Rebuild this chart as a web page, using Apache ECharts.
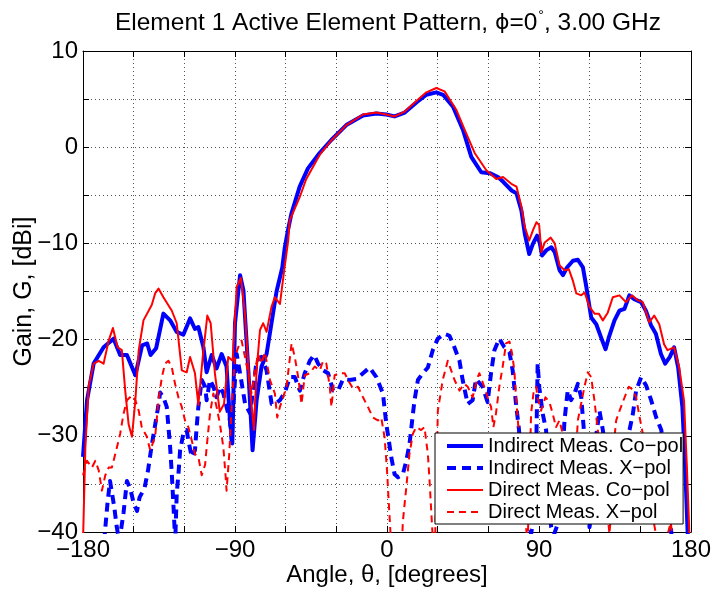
<!DOCTYPE html>
<html>
<head>
<meta charset="utf-8">
<script src="https://cdn.jsdelivr.net/npm/echarts@6/dist/echarts.min.js"></script>
<style>
html,body{margin:0;padding:0;background:#fff;}
#chart{width:712px;height:593px;}
</style>
</head>
<body>
<div id="chart"></div>
<script>
// ---- data: [angle (deg), gain (dBi)] ----
const seriesNames = ['Indirect Meas. Co\u2212pol', 'Indirect Meas. X\u2212pol', 'Direct Meas. Co\u2212pol', 'Direct Meas. X\u2212pol'];
const xTickLabels = [-180, -90, 0, 90, 180];
const yTickLabels = [-40, -30, -20, -10, 0, 10];

const indirectCoPol = [
[-180,-32.2],[-177.6,-26.3],[-173.7,-22.5],[-167.8,-20.8],[-161.9,-19.9],[-158,-21.6],[-154,-21.6],[-149,-23.7],
[-145,-20.6],[-142,-20.4],[-140,-21.6],[-136.7,-20.9],[-132.4,-17.3],[-128.4,-18.0],[-124.5,-19.2],[-120.6,-19.5],
[-116.6,-17.8],[-113.7,-18.9],[-111.7,-18.7],[-108.7,-20.8],[-106.8,-23.4],[-103.8,-21.6],[-100.9,-23.0],[-97.9,-21.5],
[-95,-22.8],[-93,-28.4],[-91.6,-30.8],[-90,-18.3],[-87,-13.3],[-85,-14.9],[-82,-23.5],[-79.6,-31.5],[-77.2,-26.3],
[-74.3,-22.8],[-71.3,-21.5],[-68.4,-18.3],[-65.4,-15.0],[-62,-12.5],[-60.5,-10.4],[-58.5,-8.5],[-56.6,-6.9],
[-51.7,-4.1],[-46.8,-2.2],[-39.9,-0.6],[-33,0.75],[-24.1,2.3],[-14.2,3.3],[-6.3,3.5],[-0.4,3.4],[4.5,3.2],[10.5,3.6],
[17.4,4.65],[23.3,5.45],[29.2,5.7],[33.2,5.45],[39.1,4.2],[45,1.8],[49.9,-1.0],[55.8,-2.6],[60.8,-2.7],[65.7,-3.1],
[68.8,-3.6],[73.8,-4.5],[76.7,-4.8],[79.6,-6.6],[81.6,-9.0],[84.2,-11.1],[86.5,-10.0],[88.9,-9.2],[90.5,-10.0],
[91.8,-11.25],[94.4,-10.7],[97.3,-10.4],[99.3,-10.9],[102.2,-12.8],[104.2,-13.3],[106.6,-12.5],[110.1,-11.8],
[113,-11.7],[116,-12.5],[118,-14.5],[120.9,-17.7],[123.9,-18.4],[126.8,-19.8],[129.4,-21.0],[131.3,-19.8],
[134.7,-18.0],[137.6,-17.0],[140.6,-16.8],[143.5,-15.4],[146.4,-15.8],[150.4,-16.1],[153.3,-17.0],[156.3,-18.5],
[159.2,-19.4],[162.2,-21.5],[164.7,-22.5],[167.5,-21.8],[170,-20.8],[172.4,-22.9],[174.9,-27.0],[176.5,-33],
[178,-40],[180,-44]
];

const indirectXPol = [
[-180,-45],[-168,-42],[-165.5,-37],[-164,-34.7],[-161.5,-37.4],[-160,-39.5],[-158.5,-41],[-156,-38],[-154,-34.7],
[-152,-35.5],[-150,-37],[-148,-37.8],[-146.5,-36.4],[-143.5,-35.4],[-141.5,-33.6],[-139.5,-31.2],[-137.5,-29.1],
[-135.5,-27],[-134.3,-25.5],[-132.4,-26],[-130.4,-27],[-129.4,-29.1],[-128.4,-31.2],[-127.4,-34],[-126.4,-37.4],
[-125.4,-41],[-124.5,-36],[-123.5,-34],[-122.5,-31.5],[-120.6,-29.8],[-118.6,-29.4],[-117.6,-30.5],[-115.6,-32.2],
[-113.7,-31.5],[-112.7,-29.1],[-111.7,-27],[-109.7,-24.2],[-107.7,-24.9],[-106.8,-26.3],[-104.8,-24.2],
[-102.8,-24.9],[-100.9,-26],[-98.9,-24.9],[-96.9,-25.6],[-95,-27],[-93,-28.4],[-92,-30.5],[-91,-27],[-90,-24.2],
[-89,-21.5],[-87,-23.5],[-84,-26.7],[-81,-27.7],[-77.2,-22.2],[-74.3,-21.8],[-71.3,-23.2],[-68.3,-26.7],
[-66.4,-26.7],[-63.4,-26.3],[-60.5,-25.5],[-57.5,-23.9],[-54.6,-23.9],[-51.6,-25.3],[-48.7,-23.5],[-45.7,-22.2],
[-43.1,-21.6],[-40.8,-22.5],[-37.8,-23.2],[-34.9,-23.5],[-31.9,-25.3],[-29,-25.3],[-26,-24.1],[-22.1,-24.2],
[-18.1,-24.1],[-14.2,-23.5],[-10.3,-22.9],[-6.3,-23.9],[-2.4,-25.6],[-0.4,-28.8],[1.1,-30.5],[2.5,-32.2],
[4.5,-34],[6.5,-34.3],[9.4,-34],[11.4,-32.6],[13.3,-30.9],[14.9,-28.4],[16.3,-26.3],[18.3,-24.2],[21.2,-23.5],
[24.2,-22.9],[27.1,-21.1],[30.1,-19.9],[34,-19.4],[37,-19.6],[39.9,-20.8],[42.9,-22.2],[44.8,-24.2],[47.8,-26.7],
[50.7,-26.3],[52.7,-24.1],[56.6,-24.9],[59.6,-26.5],[61.6,-23.5],[63.6,-21.1],[66.5,-19.9],[69.5,-20.8],
[72.5,-21.3],[74.4,-23.2],[76.4,-26.7],[78,-29.1],[79.4,-31.9],[81.3,-35.3],[83.3,-38.1],[85.3,-40.2],
[87.3,-38.1],[88.3,-31.9],[89.2,-22.5],[90.2,-25],[92.2,-27.7],[94.2,-29.4],[95.2,-33.6],[96.2,-37.4],
[97.2,-39.5],[99,-40.2],[101,-39.2],[103.1,-34.7],[105.1,-28.4],[107,-25.3],[109,-26.3],[111,-25.6],[113,-24.6],
[115,-26],[116.9,-30.1],[118.9,-35.3],[119.9,-39.5],[121.9,-37],[123.8,-30.1],[125.8,-27.4],[127.8,-29.4],
[129.8,-31.9],[131.7,-35.3],[133.7,-36.7],[135.7,-33.6],[137.7,-32.6],[139.6,-32.6],[141.6,-31.2],[143.6,-29.4],
[145.6,-27.7],[147.5,-25.3],[150.5,-23.9],[153.5,-24.8],[156.4,-26.3],[159.4,-28.1],[162.4,-29.4],[164.3,-31.9],
[167.3,-37.1],[169,-42],[180,-45]
];

const directCoPol = [
[-180,-41],[-178.6,-31.2],[-176.7,-24.9],[-173.7,-22.5],[-170.7,-22.2],[-167.8,-22.5],[-164.8,-20.1],[-162.3,-18.8],
[-159.5,-20.8],[-157,-21.1],[-155,-25.3],[-153,-28.8],[-151,-30.1],[-149,-26.3],[-147,-21.1],[-144.2,-18.0],
[-139.3,-16.4],[-137.3,-15.2],[-135.3,-14.7],[-132.4,-15.6],[-127.4,-17.0],[-124.5,-18.3],[-121.5,-23.2],
[-118.6,-23.4],[-116.6,-21.8],[-113.7,-23.5],[-111.7,-26.8],[-109.1,-21.8],[-106.4,-17.5],[-104.4,-18.3],
[-101.9,-23.5],[-99,-27.5],[-96.5,-26.7],[-94,-21.8],[-91.4,-22.2],[-89,-14.5],[-86.5,-13.6],[-84.1,-17.3],
[-81.6,-24.2],[-78.8,-29.4],[-77.2,-23.2],[-75.2,-19.0],[-73.3,-18.3],[-71.3,-19.2],[-68.4,-16.6],[-66.4,-15.6],
[-63.4,-16.3],[-61.1,-13.1],[-58.5,-9.7],[-57.6,-7.6],[-51.7,-5.2],[-47.8,-3.3],[-39.9,-0.8],[-33,0.7],
[-24.1,2.3],[-14.2,3.4],[-6.3,3.6],[-0.4,3.4],[4.5,3.2],[10.5,3.7],[17.4,4.8],[23.3,5.7],[29.2,6.15],[34.1,5.8],
[41,3.9],[46,1.8],[51.9,-0.6],[58.8,-2.4],[64.7,-3.3],[68.7,-3.1],[73.6,-3.8],[76.7,-4.1],[79.6,-6.2],[81.6,-8.3],
[84.2,-9.7],[86.5,-8.6],[88.5,-7.8],[90.1,-8.1],[91.4,-10.9],[93.4,-9.9],[96.9,-9.4],[99.3,-10.0],[102.2,-12.3],
[105.2,-12.8],[107.7,-12.7],[110.1,-13.9],[112.1,-15.2],[115,-15.4],[117,-15.1],[119.9,-16.6],[122.9,-17.3],
[125.4,-17.3],[127.8,-18.0],[130.7,-17.2],[133.7,-15.6],[137.6,-15.4],[141.5,-16.1],[145.1,-15.4],[148.4,-15.9],
[151.4,-16.1],[155.3,-18.2],[158.2,-17.5],[161.2,-18.4],[164.1,-20.5],[166.1,-21.1],[170,-20.8],[173,-22.9],
[175.9,-26.4],[177.5,-33],[179,-40],[180,-44]
];

const directXPol = [
[-180,-34.1],[-177.6,-32.6],[-174.7,-33.3],[-172.7,-32.6],[-170.7,-33.6],[-168.8,-35.7],[-166.8,-34.1],
[-164.8,-33.3],[-162.9,-33.3],[-159.9,-31.2],[-158,-29.8],[-156,-27.7],[-154,-26.3],[-151,-25.8],[-149,-26.3],
[-147,-27.4],[-145.2,-29.1],[-142.2,-30.1],[-140.2,-31.5],[-137.3,-30.1],[-135.3,-26.3],[-133.3,-23.9],
[-131.4,-22.5],[-129.4,-22.2],[-127.4,-22.9],[-125.5,-24.6],[-123.5,-26],[-121.5,-27],[-119.6,-28.4],
[-117.6,-29.1],[-115.6,-30.5],[-113.7,-31.9],[-111.7,-32.2],[-109.7,-34.1],[-107.7,-33],[-106.4,-30.5],
[-104.8,-27.7],[-102.8,-25.6],[-100.9,-27],[-98.9,-28.8],[-96.9,-31.2],[-95.6,-34.1],[-95,-35.7],[-93.4,-31.9],
[-92,-27],[-90,-21.8],[-88.1,-20.8],[-86.1,-20.1],[-84.1,-21.8],[-82.2,-23.5],[-80.2,-25.6],[-78.2,-23.2],
[-76.3,-21.5],[-74.3,-22.5],[-72.3,-21.3],[-69.3,-24.2],[-66.4,-25.6],[-65,-28.1],[-63.4,-27],[-61.5,-26],
[-59.5,-24.9],[-57.9,-22.5],[-56.5,-20.4],[-54.6,-21.8],[-52.6,-23.9],[-50.6,-26.7],[-48.7,-23.7],[-45.7,-23.5],
[-42.8,-22.8],[-39.8,-23.2],[-37.8,-22.2],[-35.9,-22.5],[-33.9,-24.9],[-32.9,-27],[-31,-23.7],[-28,-23.5],
[-25,-23.5],[-23.1,-24.2],[-20.1,-25.1],[-17.2,-24.9],[-14.2,-26],[-11.3,-27],[-8.3,-28.1],[-5.4,-28.4],
[-3.4,-28.1],[-1.4,-30.2],[0,-33.6],[1.1,-37.1],[2.1,-40.2],[3.5,-43],[8.4,-43],[9.4,-38.9],[11.4,-35.4],
[13.3,-31.9],[15.3,-29.8],[17.3,-29.1],[20.2,-29.4],[22.2,-29.1],[24.2,-31.9],[25.2,-34.7],[26.1,-37.5],
[27.2,-41],[28.5,-41],[29.2,-35],[30.1,-27.4],[33,-24.2],[36,-22.2],[38,-23.2],[40,-24.2],[42.9,-25.3],
[45.8,-24.6],[47.8,-24.9],[50.7,-26],[53.7,-23.9],[54.7,-23.5],[57.6,-24.9],[59.6,-26],[61.6,-27],[63,-29.1],
[64.5,-27.7],[66.5,-24.9],[68.5,-22.8],[70.5,-20.4],[72.5,-20.2],[74,-21.4],[75.4,-23.2],[76.4,-26],[77.8,-29.1],
[78.8,-31.9],[80.4,-35.3],[81.3,-37.4],[82.3,-39.5],[83.3,-41],[84.3,-35],[85.3,-27.7],[86.7,-25.6],[88.3,-24.9],
[89.2,-26],[91.2,-27.4],[93.8,-26],[96.2,-26.5],[98.1,-27.7],[100.1,-29.1],[102.1,-28.4],[104.1,-29.8],[106,-31.9],
[108,-34.7],[110,-35.4],[111.6,-32.6],[113,-28.4],[114.9,-26.7],[116.9,-24.9],[118.9,-23.4],[120.9,-23.9],
[122.8,-26.3],[124.8,-29.4],[126.8,-31.9],[128.8,-34.7],[130.2,-37.4],[131.7,-40.2],[132.7,-38],[133.7,-31.9],
[135.7,-28.4],[137.7,-27.4],[139.6,-26.5],[141.6,-25.6],[143.2,-24.9],[145.6,-25.2],[147.5,-26],[149.5,-28],
[151.5,-29.8],[153,-33],[155,-36],[158,-39],[160,-41],[165,-41],[168,-39],[170,-42],[180,-45]
];

// ---- chart ----
const FONT = '"Liberation Sans", Arial, Helvetica, sans-serif';
const minus = v => String(v).replace('-', '\u2212');
const BLUE = '#0000ff', RED = '#ff0000';

const chart = echarts.init(document.getElementById('chart'), null, {renderer: 'canvas'});

const gridLine = {show: true, lineStyle: {color: '#555', width: 1, type: [1, 3]}};
const axisLine = {show: true, onZero: false, lineStyle: {color: '#000', width: 1}};
const tick = {show: true, inside: true, length: 6, lineStyle: {color: '#000', width: 1}};

const lineSeries = (name, data, color, width, type) => ({
  name, type: 'line', data, symbol: 'none', showSymbol: false, smooth: false,
  xAxisIndex: 0, yAxisIndex: 0,
  lineStyle: {color, width, type, cap: 'butt', join: 'round'},
  itemStyle: {color},
  emphasis: {disabled: true},
  animation: false
});

const legendEntry = (name, color, width, type) => ({
  name,
  itemStyle: {color, opacity: 0},
  lineStyle: {color, width, type, opacity: 1}
});

chart.setOption({
  animation: false,
  backgroundColor: '#fff',
  title: {
    text: '{a|Element 1 Active Element Pattern, }{b|\u03D5}{a|=0}{s|\u00B0}{a|, 3.00 GHz}',
    left: 383, top: 4, textAlign: 'center',
    textStyle: {
      fontWeight: 'normal',
      rich: {
        a: {fontFamily: FONT, fontSize: 24.5, fontWeight: 'normal', color: '#000'},
        b: {fontFamily: '"DejaVu Sans", sans-serif', fontSize: 22, fontWeight: 'normal', color: '#000'},
        s: {fontFamily: FONT, fontSize: 14, fontWeight: 'normal', color: '#000', padding: [0, 0, 14, 1]}
      }
    }
  },
  grid: {left: 83, right: 21, top: 51, bottom: 61, containLabel: false, outerBoundsMode: 'none'},
  legend: {
    orient: 'vertical', left: 435, top: 433,
    itemWidth: 36, itemHeight: 14, itemGap: 2,
    backgroundColor: '#fff', borderColor: '#000', borderWidth: 1, borderRadius: 0,
    padding: [3, 0, 2, 10],
    textStyle: {fontFamily: FONT, fontSize: 20, color: '#000'},
    selectedMode: false,
    data: [
      legendEntry(seriesNames[0], BLUE, 4, 'solid'),
      legendEntry(seriesNames[1], BLUE, 4, [9, 6]),
      legendEntry(seriesNames[2], RED, 2, 'solid'),
      legendEntry(seriesNames[3], RED, 2, [7, 5])
    ]
  },
  xAxis: [{
    type: 'value', min: -180, max: 180, interval: 30, position: 'bottom',
    axisLine, axisTick: tick, splitLine: gridLine,
    axisLabel: {
      margin: 6, fontFamily: FONT, fontSize: 24, color: '#000',
      formatter: v => xTickLabels.indexOf(v) >= 0 ? minus(v) : ''
    },
    name: 'Angle, \u03B8, [degrees]', nameLocation: 'middle', nameGap: 31, nameMoveOverlap: false,
    nameTextStyle: {fontFamily: FONT, fontSize: 24, color: '#000'}
  }, {
    type: 'value', min: -180, max: 180, interval: 30, position: 'top',
    axisLine, axisTick: tick, splitLine: {show: false}, axisLabel: {show: false}
  }],
  yAxis: [{
    type: 'value', min: -40, max: 10, interval: 5, position: 'left',
    axisLine, axisTick: tick, splitLine: gridLine,
    axisLabel: {
      margin: 5, fontFamily: FONT, fontSize: 24, color: '#000',
      formatter: v => yTickLabels.indexOf(v) >= 0 ? minus(v) : ''
    },
    name: 'Gain, G, [dBi]', nameLocation: 'middle', nameGap: 46, nameRotate: 90, nameMoveOverlap: false,
    nameTextStyle: {fontFamily: FONT, fontSize: 25, color: '#000'}
  }, {
    type: 'value', min: -40, max: 10, interval: 5, position: 'right',
    axisLine, axisTick: tick, splitLine: {show: false}, axisLabel: {show: false}
  }],
  series: [
    lineSeries(seriesNames[0], indirectCoPol, BLUE, 4, 'solid'),
    lineSeries(seriesNames[1], indirectXPol, BLUE, 4, [9, 6]),
    lineSeries(seriesNames[2], directCoPol, RED, 2, 'solid'),
    lineSeries(seriesNames[3], directXPol, RED, 2, [7, 5])
  ]
});
</script>
</body>
</html>
